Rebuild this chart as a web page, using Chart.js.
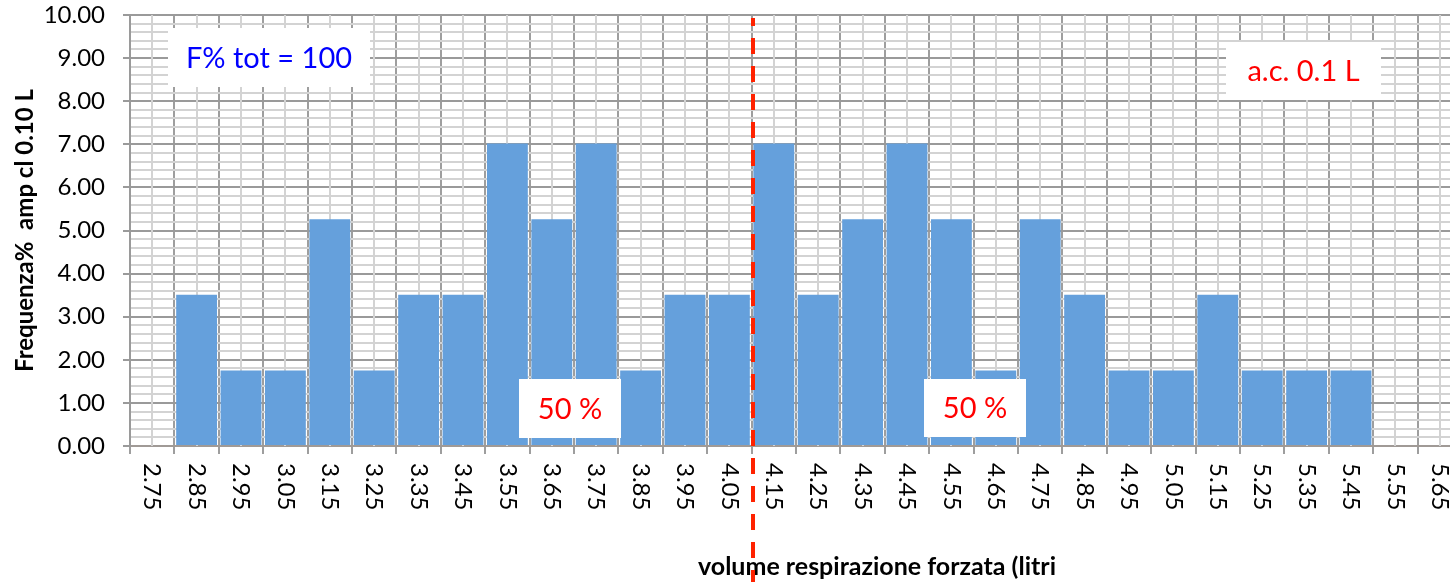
<!DOCTYPE html>
<html>
<head>
<meta charset="utf-8">
<script src="https://cdn.jsdelivr.net/npm/chart.js@4.4.0/dist/chart.umd.min.js"></script>
<style>
html, body { margin: 0; padding: 0; overflow: hidden; background: #fff; }
</style>
</head>
<body>
<canvas id="myChart" width="1464" height="582"></canvas>
<script>
// classi (centro classe, litri) e frequenze percentuali, n = 57
let classi = ['2.75', '2.85', '2.95', '3.05', '3.15', '3.25', '3.35', '3.45', '3.55', '3.65',
              '3.75', '3.85', '3.95', '4.05', '4.15', '4.25', '4.35', '4.45', '4.55', '4.65',
              '4.75', '4.85', '4.95', '5.05', '5.15', '5.25', '5.35', '5.45', '5.55', '5.65'];
let frequenze = [0, 3.51, 1.75, 1.75, 5.26, 1.75, 3.51, 3.51, 7.02, 5.26,
                 7.02, 1.75, 3.51, 3.51, 7.02, 3.51, 5.26, 7.02, 5.26, 1.75,
                 5.26, 3.51, 1.75, 1.75, 3.51, 1.75, 1.75, 1.75, 0, 0];
let yMin = 0;
let yMax = 10;
let yPasso = 0.2;
let mediana = 4.10; // la linea tratteggiata sta fra 4.05 e 4.15
let titoloY = 'Frequenza%  amp cl 0.10 L';
let titoloX = 'volume respirazione forzata (litri';
let riquadri = [
  { testo: 'F% tot = 100', colore: '#0000ff', x: 168, y: 28, w: 202, h: 59 },
  { testo: 'a.c. 0.1 L', colore: '#ff0000', x: 1226, y: 42, w: 155, h: 58 },
  { testo: '50 %', colore: '#ff0000', x: 519, y: 379, w: 102, h: 59 },
  { testo: '50 %', colore: '#ff0000', x: 924, y: 379, w: 102, h: 58 }
];

function intero(v) {
  return Math.abs(v - Math.round(v)) < 1e-6;
}

// griglia secondaria verticale (centro delle classi)
const grigliaMinore = {
  id: 'grigliaMinore',
  beforeDatasetsDraw(chart) {
    let ctx = chart.ctx;
    let a = chart.chartArea;
    let xs = chart.scales.x;
    ctx.save();
    ctx.strokeStyle = '#d3d3d3';
    ctx.lineWidth = 2;
    for (let i = 0; i < classi.length; i++) {
      let x = Math.round(xs.getPixelForValue(i));
      ctx.beginPath();
      ctx.moveTo(x, a.top);
      ctx.lineTo(x, a.bottom);
      ctx.stroke();
    }
    ctx.restore();
  }
};

// etichette ruotate, riquadri di testo, titolo x e linea rossa
const extra = {
  id: 'extra',
  afterDraw(chart) {
    let ctx = chart.ctx;
    let a = chart.chartArea;
    let xs = chart.scales.x;
    ctx.save();

    ctx.fillStyle = '#000';
    ctx.font = '24px Lato';
    ctx.textAlign = 'left';
    ctx.textBaseline = 'middle';
    for (let i = 0; i < classi.length; i++) {
      ctx.save();
      ctx.translate(xs.getPixelForValue(i), a.bottom + 17);
      ctx.rotate(Math.PI / 2);
      ctx.fillText(classi[i], 0, 0);
      ctx.restore();
    }

    ctx.font = 'bold 25px Lato';
    ctx.textAlign = 'center';
    ctx.fillText(titoloX, 877, 567);

    ctx.font = '29px Lato';
    riquadri.forEach(function (r) {
      ctx.fillStyle = '#fff';
      ctx.fillRect(r.x, r.y, r.w, r.h);
      ctx.fillStyle = r.colore;
      ctx.fillText(r.testo, r.x + r.w / 2, r.y + r.h / 2 + 1);
    });

    let i0 = classi.findIndex(c => parseFloat(c) > mediana);
    let xm = Math.round((xs.getPixelForValue(i0 - 1) + xs.getPixelForValue(i0)) / 2) + 1;
    ctx.strokeStyle = '#ff2200';
    ctx.lineWidth = 4;
    ctx.setLineDash([16, 12]);
    ctx.lineDashOffset = 8;
    ctx.beginPath();
    ctx.moveTo(xm, a.top + 3);
    ctx.lineTo(xm, chart.height);
    ctx.stroke();
    ctx.restore();
  }
};

let ctx = document.getElementById('myChart').getContext('2d');
let chart = new Chart(ctx, {
  type: 'bar',
  data: {
    labels: classi,
    datasets: [{
      label: 'Frequenza %',
      data: frequenze,
      backgroundColor: '#65a0dc',
      borderWidth: 0,
      barPercentage: 0.92,
      categoryPercentage: 1
    }]
  },
  options: {
    responsive: false,
    animation: false,
    layout: { padding: { left: 0, right: 2, top: 15, bottom: 0 } },
    plugins: { legend: { display: false }, tooltip: { enabled: false } },
    scales: {
      x: {
        afterFit(scale) { scale.height = 136; scale.paddingTop = 0; },
        grid: {
          offset: true,
          color: '#9e9e9e',
          lineWidth: 2,
          tickLength: 8,
          tickColor: '#9e9e9e'
        },
        border: { color: '#a09a96', width: 2 },
        ticks: { display: false }
      },
      y: {
        min: yMin,
        max: yMax,
        afterFit(scale) { scale.width = 130; scale.paddingTop = 0; scale.paddingBottom = 0; },
        grid: {
          color: c => intero(c.tick.value) ? '#9a9a9a' : '#d3d3d3',
          lineWidth: 2,
          tickLength: 7,
          tickColor: c => intero(c.tick.value) ? '#9a9a9a' : 'rgba(0,0,0,0)'
        },
        border: { color: '#9a9a9a', width: 2 },
        ticks: {
          stepSize: yPasso,
          autoSkip: false,
          padding: 18,
          color: '#000',
          font: { family: 'Lato', size: 24 },
          callback: v => intero(v) ? v.toFixed(2) : ''
        },
        title: {
          display: true,
          text: titoloY,
          color: '#000',
          font: { family: 'Lato', size: 24, weight: 'bold' },
          padding: { top: 11, bottom: 0 }
        }
      }
    }
  },
  plugins: [grigliaMinore, extra]
});
</script>
</body>
</html>
